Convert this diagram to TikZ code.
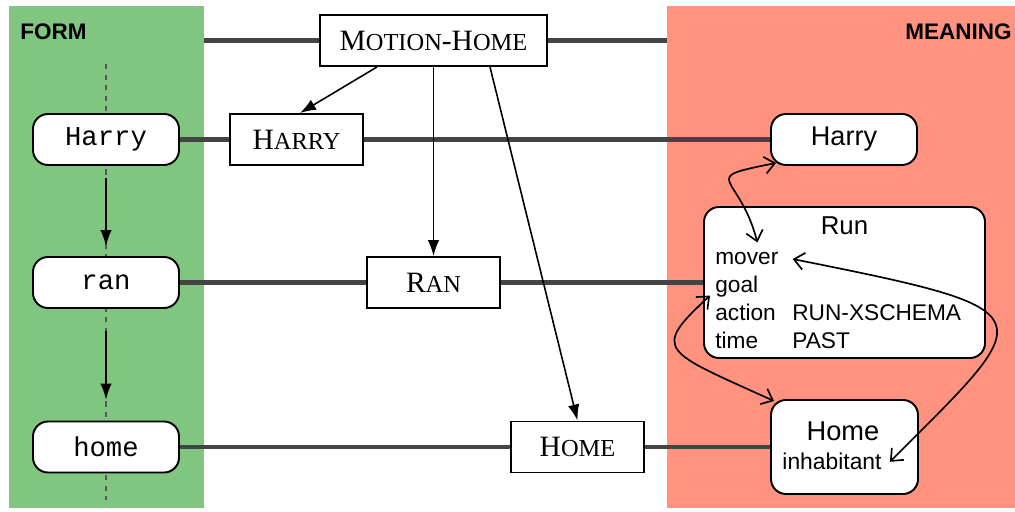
\documentclass[tikz,border=0pt]{standalone}
\usepackage{fontspec}
\setmainfont{Liberation Serif}
\newfontfamily\helv{Liberation Sans}
\newfontfamily\cour{Liberation Mono}
\usetikzlibrary{arrows.meta}

\definecolor{formgreen}{RGB}{128,198,128}
\definecolor{meaningred}{RGB}{255,147,128}
\definecolor{linkgray}{RGB}{68,68,68}

\newcommand{\fsz}[1]{\fontsize{#1}{#1}\selectfont}
\newcommand{\smc}[1]{{\fsz{13.9}#1}}

\begin{document}
\begin{tikzpicture}[
    formword/.style={draw, fill=white, line width=1.1pt, rounded corners=0.3cm,
      minimum width=2.92cm, minimum height=1.02cm, font=\cour\fsz{15.5}},
    cxn/.style={draw, fill=white, line width=1.1pt, minimum width=2.66cm,
      minimum height=1.02cm, font=\fsz{16.8}},
    concept/.style={draw, fill=white, line width=1.1pt, rounded corners=0.3cm},
    slot/.style={anchor=base west, inner sep=0pt, font=\helv\fsz{12.9}},
    link/.style={draw=linkgray, line width=2.6pt},
    derive/.style={-{Latex[length=3.2mm,width=2.3mm]}, line width=0.9pt},
    bind/.style={{Straight Barb[length=2mm,width=3.4mm]}-{Straight Barb[length=2mm,width=3.4mm]},
      line width=0.95pt}
  ]
  \useasboundingbox (0,0) rectangle (20.3,10.22);

  % Form and meaning poles
  \fill[formgreen] (0.18,0.06) rectangle (4.08,10.10);
  \fill[meaningred] (13.34,0.06) rectangle (20.3,10.10);
  \node[anchor=base west, inner sep=0pt, font=\helv\bfseries\fsz{12.8}] (formT) at (0.40,9.42) {FORM};
  \node[anchor=base east, inner sep=0pt, font=\helv\bfseries\fsz{12.8}] (meaningT) at (20.24,9.42) {MEANING};

  % Word order spine (dashed)
  \coordinate (spineTop) at (2.12,8.94);
  \coordinate (spineBot) at (2.12,0.22);
  \draw[dashed, linkgray!90, line width=0.8pt] (spineTop) -- (spineBot);

  % Form words
  \node[formword] (harryF) at (2.12,7.43) {Harry};
  \node[formword] (ranF) at (2.12,4.57) {ran};
  \node[formword] (homeF) at (2.12,1.28) {home};

  % Constructions
  \node[cxn, minimum width=4.54cm] (mh) at (8.67,9.41) {M\smc{OTION}-H\smc{OME}};
  \node[cxn] (harryC) at (5.93,7.43) {H\smc{ARRY}};
  \node[cxn] (ranC) at (8.67,4.57) {R\smc{AN}};
  \node[cxn] (homeC) at (11.55,1.28) {H\smc{OME}};

  % Meaning schemas
  \node[concept, minimum width=2.92cm, minimum height=1.02cm, font=\helv\fsz{15.4}] (harryM) at (16.88,7.43) {Harry};

  \node[concept, minimum width=5.62cm, minimum height=3.02cm] (run) at (16.89,4.57) {};
  \node[anchor=base, inner sep=0pt, font=\helv\fsz{14.7}] (runT) at (16.89,5.52) {Run};
  \node[slot] (mover) at (14.30,4.92) {mover};
  \node[slot] (goal) at (14.30,4.36) {goal};
  \node[slot] (action) at (14.30,3.80) {action};
  \node[slot] (actionVal) at (15.84,3.80) {RUN-XSCHEMA};
  \node[slot] (time) at (14.30,3.24) {time};
  \node[slot] (timeVal) at (15.84,3.24) {PAST};

  \node[concept, minimum width=2.94cm, minimum height=1.88cm] (homeM) at (16.89,1.28) {};
  \node[anchor=base, inner sep=0pt, font=\helv\fsz{15.5}] (homeT) at (16.86,1.42) {Home};
  \node[anchor=base, inner sep=0pt, font=\helv\fsz{13}] (inhab) at (16.64,0.82) {inhabitant};

  % Form-meaning pairings
  \coordinate (formEdge) at (4.08,9.41);
  \coordinate (meaningEdge) at (13.34,9.41);
  \draw[link] (formEdge) -- (mh) (mh) -- (meaningEdge);
  \draw[link] (harryF) -- (harryC) (harryC) -- (harryM);
  \draw[link] (ranF) -- (ranC) (ranC) -- (run);
  \draw[link] (homeF) -- (homeC) (homeC) -- (homeM);

  % Word order
  \draw[derive, shorten <=0.24cm, shorten >=0.2cm] (harryF) -- (ranF);
  \draw[derive, shorten <=0.44cm, shorten >=0.42cm] (ranF) -- (homeF);

  % Constituents
  \draw[derive] ([xshift=-1.13cm]mh.south) -- ([xshift=0.07cm]harryC.north);
  \draw[derive] (mh) -- (ranC);
  \draw[derive] ([xshift=1.13cm]mh.south) -- (homeC.north);

  % Role bindings
  \draw[bind] ([xshift=0.21cm,yshift=0.2cm]mover.north)
    .. controls +(-0.36,1.4) and +(-1.6,-0.32) .. ([xshift=0.12cm,yshift=0.06cm]harryM.south west);
  \draw[bind] ([xshift=-0.1cm,yshift=-0.17cm]goal.west)
    .. controls +(-1.2,-1.1) and +(-2.2,1.0) .. ([xshift=0.08cm,yshift=-0.04cm]homeM.north west);
  \draw[bind] ([xshift=0.28cm]mover.east)
    .. controls +(5.2,-1.04) and +(3.0,3.0) .. ([xshift=0.16cm]inhab.east);
\end{tikzpicture}
\end{document}
